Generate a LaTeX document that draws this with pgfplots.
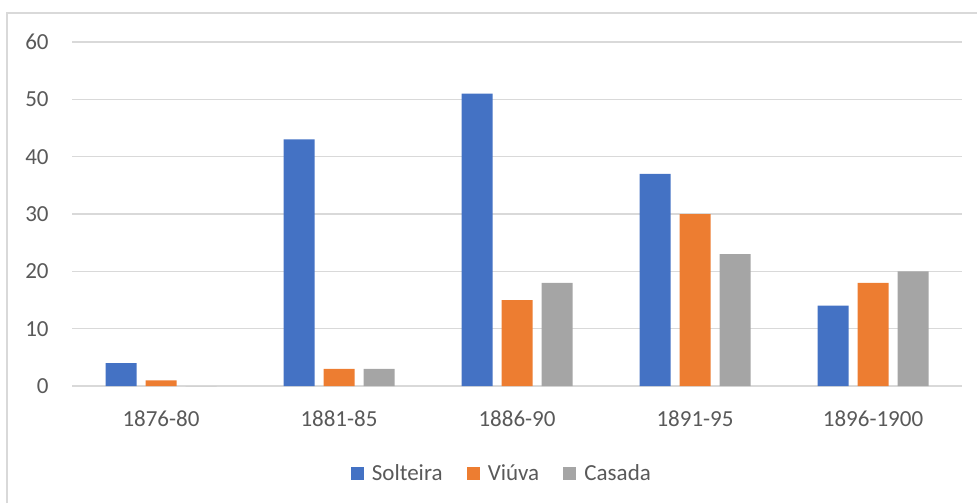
\documentclass[border=0pt]{standalone}
\usepackage{pgfplots}
\pgfplotsset{compat=1.18}
\usepackage{fontspec}
\setmainfont{Carlito}
\definecolor{cblue}{HTML}{4472C4}
\definecolor{corange}{HTML}{ED7D31}
\definecolor{cgray}{HTML}{A5A5A5}
\definecolor{gridc}{HTML}{D9D9D9}
\definecolor{txt}{HTML}{595959}
\begin{document}
\begin{tikzpicture}
\path[use as bounding box] (0,0) rectangle (488.5pt,251.5pt);
\draw[gridc, line width=0.75pt] (3.5pt,0) -- (3.5pt,245pt) -- (488.5pt,245pt);
\begin{axis}[
  at={(36pt,58.5pt)}, anchor=south west,
  scale only axis, width=445pt, height=172pt,
  ybar, bar width=15.5pt,
  xmin=-0.5, xmax=4.5, ymin=0, ymax=60,
  xtick={0,1,2,3,4},
  xticklabels={1876-80,1881-85,1886-90,1891-95,1896-1900},
  ytick={0,10,20,30,40,50,60},
  ymajorgrids, grid style={gridc, line width=0.75pt},
  axis line style={draw=none},
  major tick length=0pt,
  tick label style={font=\fontsize{11.5pt}{13pt}\selectfont, text=txt},
  /pgf/number format/assume math mode=true,
  xticklabel style={anchor=base, inner sep=0pt, yshift=-20pt},
  yticklabel style={anchor=east, inner sep=0pt, xshift=-11.5pt},
  legend columns=3,
  legend style={draw=none, fill=none, font=\fontsize{11.5pt}{13pt}\selectfont, text=txt,
    at={(0.484,-0.255)}, anchor=center,
    /tikz/every odd column/.append style={column sep=2pt},
    /tikz/every even column/.append style={column sep=10pt}},
  legend image code/.code={\fill[#1] (0pt,-3.3pt) rectangle (6.6pt,3.3pt);},
]
\addplot[fill=cblue, draw=none, bar shift=-20pt] coordinates {(0,4) (1,43) (2,51) (3,37) (4,14)};
\addplot[fill=corange, draw=none, bar shift=0pt] coordinates {(0,1) (1,3) (2,15) (3,30) (4,18)};
\addplot[fill=cgray, draw=none, bar shift=20pt] coordinates {(0,0) (1,3) (2,18) (3,23) (4,20)};
\legend{Solteira,Viúva,Casada}
\end{axis}
\end{tikzpicture}
\end{document}
